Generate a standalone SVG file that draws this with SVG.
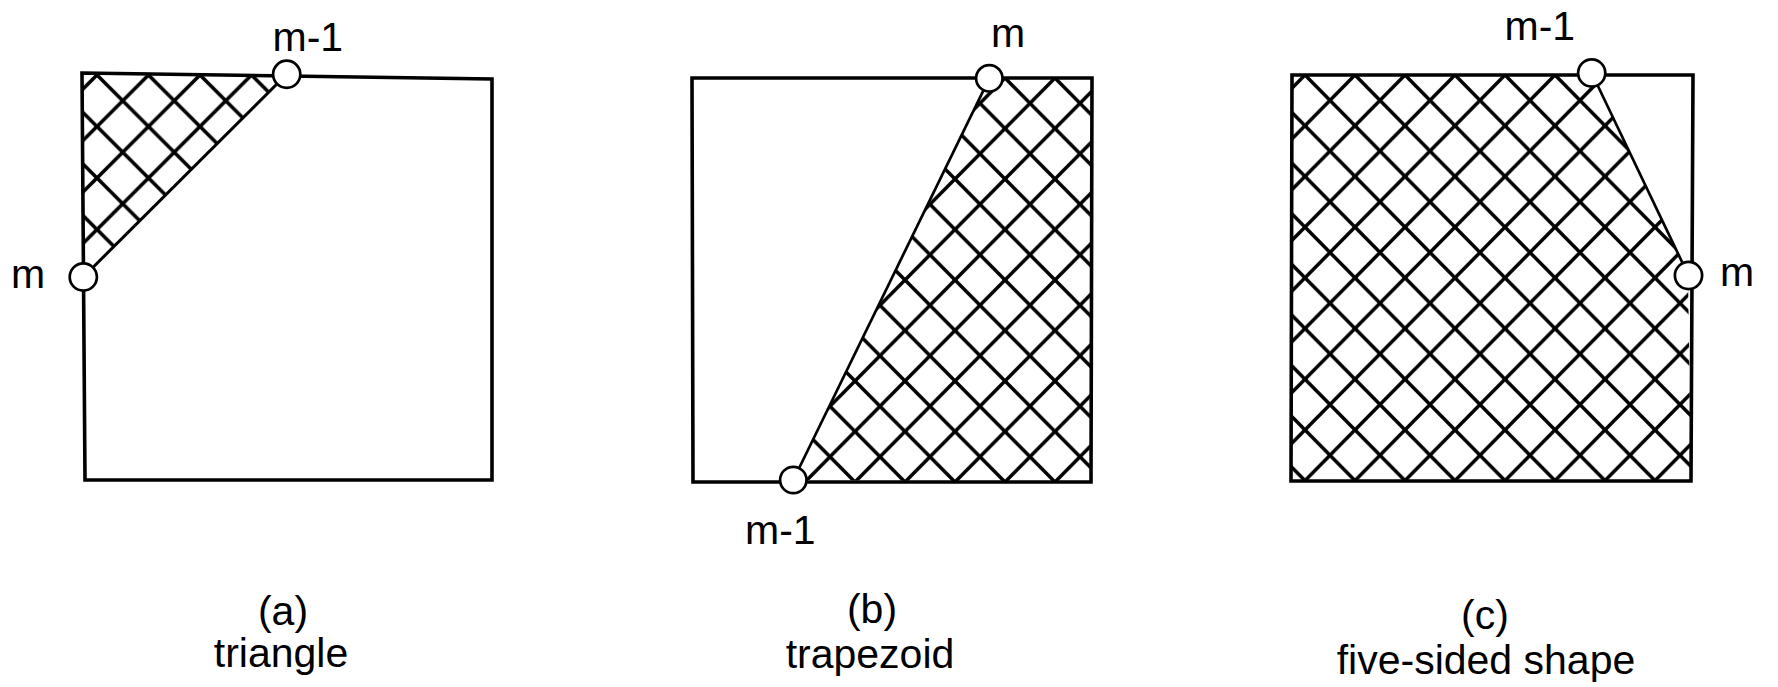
<svg xmlns="http://www.w3.org/2000/svg" width="1778" height="687" viewBox="0 0 1778 687">
<style>
  .frame{fill:none;stroke:#000;stroke-width:3.6;stroke-linejoin:miter}
  .edge{fill:none;stroke:#000;stroke-width:2.7}
  .node{fill:#fff;stroke:#000;stroke-width:2.7}
  .hl{fill:none;stroke:#000;stroke-width:3.5}
  .lbl{font-family:"Liberation Sans",Arial,Helvetica,sans-serif;font-size:41px;fill:#000}
  .cap{font-family:"Liberation Sans",Arial,Helvetica,sans-serif;font-size:41px;fill:#000;text-anchor:middle}
</style>
<defs>
  <pattern id="hatchA" patternUnits="userSpaceOnUse" width="50" height="50" patternTransform="translate(97,75) scale(1.03)">
    <path class="hl" d="M-25,-25L75,75M75,-25L-25,75M-25,25L25,-25M25,75L75,25M25,-25L75,25M-25,25L25,75"/>
  </pattern>
  <pattern id="hatchB" patternUnits="userSpaceOnUse" width="50" height="50" patternTransform="translate(855,482) scale(1,1.01)">
    <path class="hl" d="M-25,-25L75,75M75,-25L-25,75M-25,25L25,-25M25,75L75,25M25,-25L75,25M-25,25L25,75"/>
  </pattern>
  <pattern id="hatchC" patternUnits="userSpaceOnUse" width="50" height="50" patternTransform="translate(1305,75) scale(1,1.014)">
    <path class="hl" d="M-25,-25L75,75M75,-25L-25,75M-25,25L25,-25M25,75L75,25M25,-25L75,25M-25,25L25,75"/>
  </pattern>
</defs>
<rect x="0" y="0" width="1778" height="687" fill="#fff"/>

<g id="panel-a">
  <polygon points="83,74 287,74.5 83,277" fill="url(#hatchA)"/>
  <polygon class="frame" points="82,73 492,79 492,480 85,480"/>
  <line class="edge" x1="83.3" y1="277" x2="286.7" y2="74.3" style="stroke-width:3"/>
  <circle class="node" cx="286.7" cy="74.3" r="13.6"/>
  <circle class="node" cx="83.3" cy="277" r="13.6"/>
  <text class="lbl" x="272.5" y="51">m-1</text>
  <text class="lbl" x="11" y="288">m</text>
  <text class="cap" x="283" y="625">(a)</text>
  <text class="cap" x="281" y="667">triangle</text>
</g>

<g id="panel-b">
  <polygon points="989,78 1092,78 1091,482 793,480" fill="url(#hatchB)"/>
  <polygon class="frame" points="692,78 1092,78 1091,482 693,482"/>
  <line class="edge" x1="989.3" y1="78.3" x2="793.3" y2="480"/>
  <circle class="node" cx="989.3" cy="78.3" r="13.2"/>
  <circle class="node" cx="793.3" cy="480" r="13.2"/>
  <text class="lbl" x="991" y="47">m</text>
  <text class="lbl" x="745" y="544">m-1</text>
  <text class="cap" x="872" y="623">(b)</text>
  <text class="cap" x="870" y="668">trapezoid</text>
</g>

<g id="panel-c">
  <polygon points="1292,75 1592,74 1688,275 1691,481 1291,481" fill="url(#hatchC)"/>
  <polygon class="frame" points="1292,75 1693,75 1691,481 1291,481"/>
  <line class="edge" x1="1591.7" y1="73" x2="1688.5" y2="275.5"/>
  <circle class="node" cx="1591.7" cy="73" r="13.6"/>
  <circle class="node" cx="1688.5" cy="275.5" r="13.6"/>
  <text class="lbl" x="1504.5" y="40">m-1</text>
  <text class="lbl" x="1720" y="286">m</text>
  <text class="cap" x="1485" y="629">(c)</text>
  <text class="cap" x="1486" y="674">five-sided shape</text>
</g>
</svg>
